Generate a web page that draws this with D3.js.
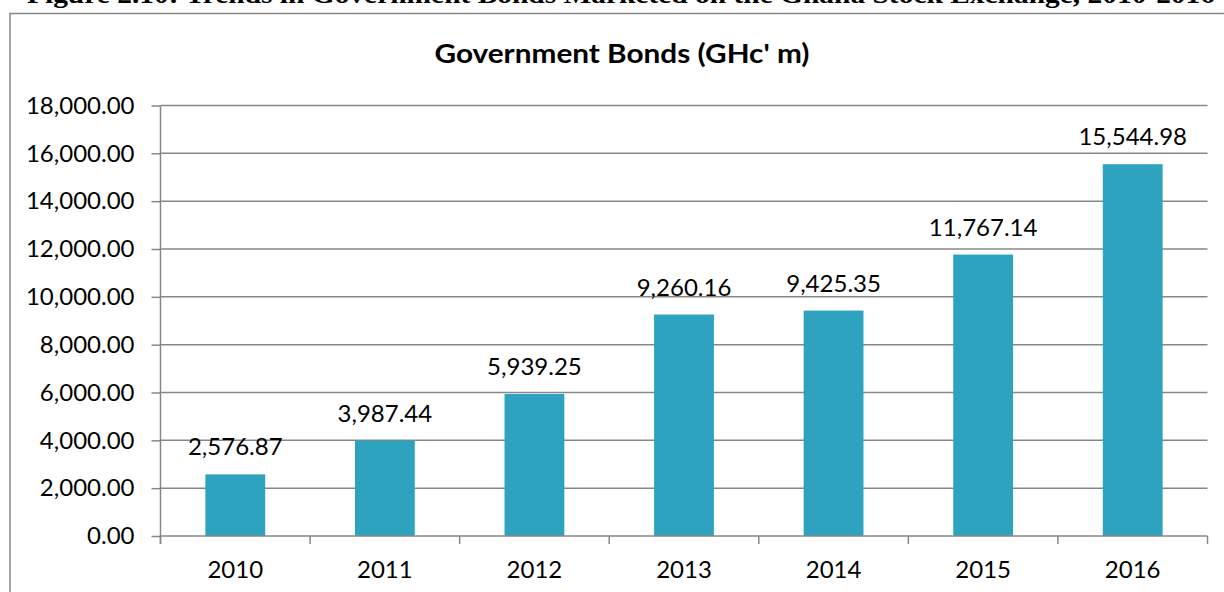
<!DOCTYPE html>
<html>
<head>
<meta charset="utf-8">
<script src="https://cdn.jsdelivr.net/npm/d3@7"></script>
<style>
  html, body { margin: 0; padding: 0; background: #fff; }
  svg { display: block; }
</style>
</head>
<body>
<svg id="chart" width="1224" height="592"></svg>
<script>
// Government bonds marketed on the Ghana Stock Exchange (GHc' million)
const years = ["2010", "2011", "2012", "2013", "2014", "2015", "2016"];
const bondValues = [2576.87, 3987.44, 5939.25, 9260.16, 9425.35, 11767.14, 15544.98];
const yTicks = [0, 2000, 4000, 6000, 8000, 10000, 12000, 14000, 16000, 18000];
const chartTitle = "Government Bonds (GHc' m)";
const figureCaption = "Figure 2.10: Trends in Government Bonds Marketed on the Ghana Stock Exchange, 2010-2016";

const svg = d3.select("#chart");
const W = 1224, H = 592;
const plot = { left: 160.5, right: 1207.5, top: 105.5, bottom: 536 };
const font = "Lato, 'Open Sans', sans-serif";
const gridColor = "#878787";
const barColor = "#2ea3c0";

// caption above the chart frame (runs off the top edge of the page)
svg.append("text")
  .attr("x", 27).attr("y", 3)
  .attr("font-family", "'Liberation Serif', 'Times New Roman', serif")
  .attr("font-weight", "bold")
  .attr("font-size", 26)
  .attr("textLength", 1188)
  .attr("lengthAdjust", "spacingAndGlyphs")
  .attr("fill", "#000")
  .text(figureCaption);

// chart frame
svg.append("rect")
  .attr("x", 10).attr("y", 13.5)
  .attr("width", W + 20).attr("height", H + 20)
  .attr("fill", "#fff")
  .attr("stroke", gridColor)
  .attr("stroke-width", 1.5);

const x = d3.scaleBand()
  .domain(years)
  .range([plot.left, plot.right])
  .paddingInner(0.6)
  .paddingOuter(0.3);

const y = d3.scaleLinear()
  .domain([0, 18000])
  .range([plot.bottom, plot.top]);

// horizontal gridlines
svg.append("g")
  .selectAll("line")
  .data(yTicks.filter(d => d > 0))
  .join("line")
  .attr("x1", plot.left).attr("x2", plot.right)
  .attr("y1", d => y(d)).attr("y2", d => y(d))
  .attr("stroke", gridColor)
  .attr("stroke-width", 1.5);

// bars
svg.append("g")
  .selectAll("rect")
  .data(years.map((yr, i) => ({ yr, v: bondValues[i] })))
  .join("rect")
  .attr("x", d => x(d.yr))
  .attr("width", x.bandwidth())
  .attr("y", d => y(d.v))
  .attr("height", d => y(0) - y(d.v))
  .attr("fill", barColor);

// y axis
const yAxis = svg.append("g")
  .attr("transform", `translate(${plot.left},0)`)
  .call(d3.axisLeft(y)
    .tickValues(yTicks)
    .tickSize(9)
    .tickPadding(17)
    .tickFormat(d3.format(",.2f")));

// x axis: ticks sit on category boundaries
const bounds = d3.range(years.length + 1).map(i => plot.left + i * (plot.right - plot.left) / years.length);
const xAxis = svg.append("g")
  .attr("transform", `translate(0,${plot.bottom})`);
xAxis.append("line")
  .attr("x1", plot.left).attr("x2", plot.right)
  .attr("stroke", gridColor).attr("stroke-width", 1.5);
xAxis.selectAll("line.tick")
  .data(bounds)
  .join("line")
  .attr("class", "tick")
  .attr("x1", d => d).attr("x2", d => d)
  .attr("y1", 0).attr("y2", 8)
  .attr("stroke", gridColor).attr("stroke-width", 1.5);
xAxis.selectAll("text")
  .data(years)
  .join("text")
  .attr("x", d => x(d) + x.bandwidth() / 2)
  .attr("y", 42)
  .attr("text-anchor", "middle")
  .attr("font-family", font)
  .attr("font-size", 24)
  .attr("fill", "#000")
  .text(d => d);

yAxis.select(".domain").attr("stroke", gridColor).attr("stroke-width", 1.5);
yAxis.selectAll(".tick line").attr("stroke", gridColor).attr("stroke-width", 1.5);
yAxis.selectAll(".tick text")
  .attr("font-family", font)
  .attr("font-size", 24)
  .attr("fill", "#000");
yAxis.selectAll(".domain").attr("d", `M0,${plot.top}V${plot.bottom + 8}`);

// value labels above bars
svg.append("g")
  .selectAll("text")
  .data(years.map((yr, i) => ({ yr, v: bondValues[i] })))
  .join("text")
  .attr("x", d => x(d.yr) + x.bandwidth() / 2)
  .attr("y", d => y(d.v) - 19)
  .attr("text-anchor", "middle")
  .attr("font-family", font)
  .attr("font-size", 24)
  .attr("fill", "#000")
  .text(d => d3.format(",.2f")(d.v));

// chart title
svg.append("text")
  .attr("x", 622).attr("y", 63)
  .attr("text-anchor", "middle")
  .attr("font-family", font)
  .attr("font-weight", "bold")
  .attr("font-size", 27)
  .attr("textLength", 375)
  .attr("lengthAdjust", "spacingAndGlyphs")
  .attr("fill", "#000")
  .text(chartTitle);
</script>
</body>
</html>
